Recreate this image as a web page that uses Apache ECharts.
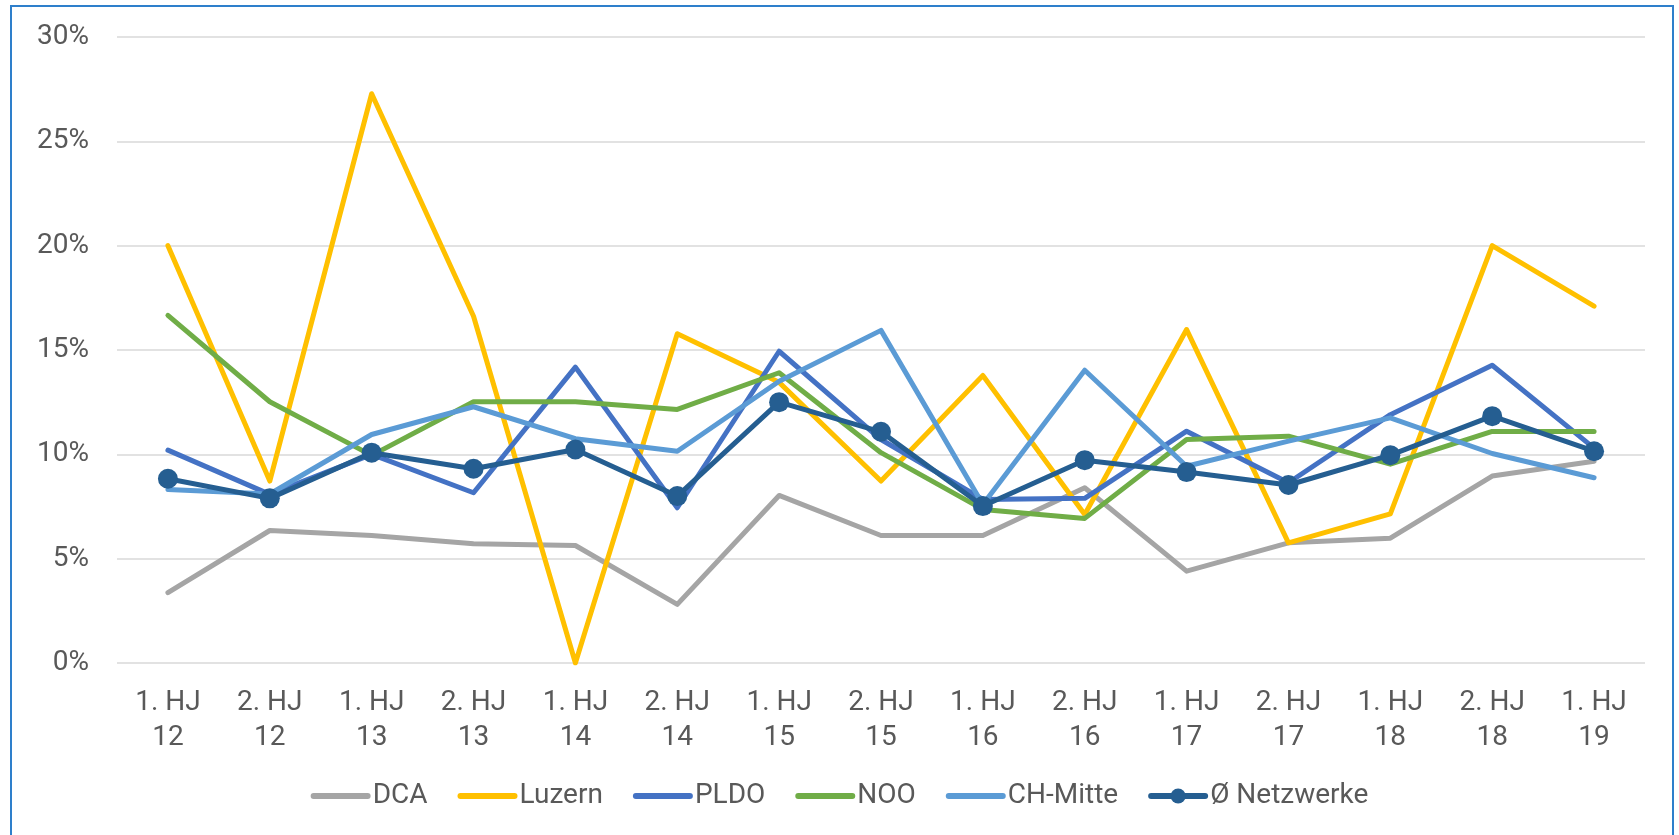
<!DOCTYPE html>
<html>
<head>
<meta charset="utf-8">
<script src="https://cdn.jsdelivr.net/npm/echarts@6/dist/echarts.min.js"></script>
<style>
  html, body { margin: 0; padding: 0; background: #fff; overflow: hidden; }
  #main { width: 1679px; height: 835px; }
</style>
</head>
<body>
<div id="main"></div>
<script>
var categories = ['1. HJ\n12', '2. HJ\n12', '1. HJ\n13', '2. HJ\n13', '1. HJ\n14', '2. HJ\n14', '1. HJ\n15', '2. HJ\n15',
  '1. HJ\n16', '2. HJ\n16', '1. HJ\n17', '2. HJ\n17', '1. HJ\n18', '2. HJ\n18', '1. HJ\n19'];

// Werte in Prozent
var dca      = [3.37, 6.35, 6.11, 5.72, 5.63, 2.81, 8.03, 6.11, 6.11, 8.40, 4.40, 5.76, 5.98, 8.96, 9.67];
var luzern   = [20.0, 8.72, 27.28, 16.62, 0.0, 15.78, 13.45, 8.72, 13.78, 7.12, 15.98, 5.76, 7.15, 20.0, 17.1];
var pldo     = [10.2, 8.08, 10.0, 8.16, 14.18, 7.44, 14.94, 10.71, 7.84, 7.89, 11.11, 8.64, 11.9, 14.27, 10.3];
var noo      = [16.66, 12.52, 9.95, 12.52, 12.52, 12.15, 13.91, 10.08, 7.36, 6.93, 10.71, 10.87, 9.53, 11.1, 11.1];
var chMitte  = [8.32, 8.1, 10.95, 12.28, 10.75, 10.15, 13.5, 15.94, 7.6, 14.03, 9.43, 10.63, 11.75, 10.04, 8.88];
var netzwerke = [8.83, 7.89, 10.08, 9.31, 10.23, 8.0, 12.5, 11.08, 7.52, 9.72, 9.15, 8.53, 9.96, 11.83, 10.15];

var yTicks = [0, 5, 10, 15, 20, 25, 30];

var chartDom = document.getElementById('main');
var myChart = echarts.init(chartDom);
var option;

var txt = '#595959';
var font = 'Roboto';

function line(name, data, color) {
  return {
    name: name,
    type: 'line',
    data: data,
    symbol: 'none',
    animation: false,
    color: color,
    lineStyle: { width: 5, color: color, cap: 'round', join: 'round' }
  };
}

var netz = line('Ø Netzwerke', netzwerke, '#255E91');
netz.symbol = 'circle';
netz.symbolSize = 20;
netz.showSymbol = true;
netz.itemStyle = { color: '#255E91' };

// legend: plain lines, only the average gets a dot
function legendItem(name, dot) {
  var it = { name: name, lineStyle: { width: 6, cap: 'round' } };
  if (!dot) it.itemStyle = { opacity: 0 };
  return it;
}

option = {
  backgroundColor: '#fff',
  animation: false,
  graphic: [{
    type: 'rect',
    shape: { x: 11, y: 6, width: 1662, height: 840 },
    style: { fill: 'none', stroke: '#2E7FCB', lineWidth: 2 },
    silent: true
  }],
  grid: { left: 117, right: 34, top: 37, bottom: 172 },
  legend: {
    bottom: 20,
    left: 'center',
    itemWidth: 54,
    itemHeight: 19,
    itemGap: 30,
    textStyle: { color: txt, fontSize: 28, fontFamily: font },
    data: [
      legendItem('DCA'), legendItem('Luzern'), legendItem('PLDO'),
      legendItem('NOO'), legendItem('CH-Mitte'), legendItem('Ø Netzwerke', true)
    ]
  },
  xAxis: {
    type: 'category',
    data: categories,
    boundaryGap: true,
    axisLine: { show: false },
    axisTick: { show: false },
    axisLabel: {
      color: txt, fontSize: 28, fontFamily: font, lineHeight: 35, margin: 22, interval: 0
    }
  },
  yAxis: {
    type: 'value',
    min: yTicks[0],
    max: yTicks[yTicks.length - 1],
    interval: 5,
    axisLine: { show: false },
    axisTick: { show: false },
    splitLine: { lineStyle: { color: '#D9D9D9', width: 1.5 } },
    axisLabel: {
      color: txt, fontSize: 28, fontFamily: font, margin: 28,
      formatter: '{value}%'
    }
  },
  series: [
    line('DCA', dca, '#A5A5A5'),
    line('Luzern', luzern, '#FFC000'),
    line('PLDO', pldo, '#4472C4'),
    line('NOO', noo, '#70AD47'),
    line('CH-Mitte', chMitte, '#5B9BD5'),
    netz
  ]
};

option && myChart.setOption(option);
</script>
</body>
</html>
